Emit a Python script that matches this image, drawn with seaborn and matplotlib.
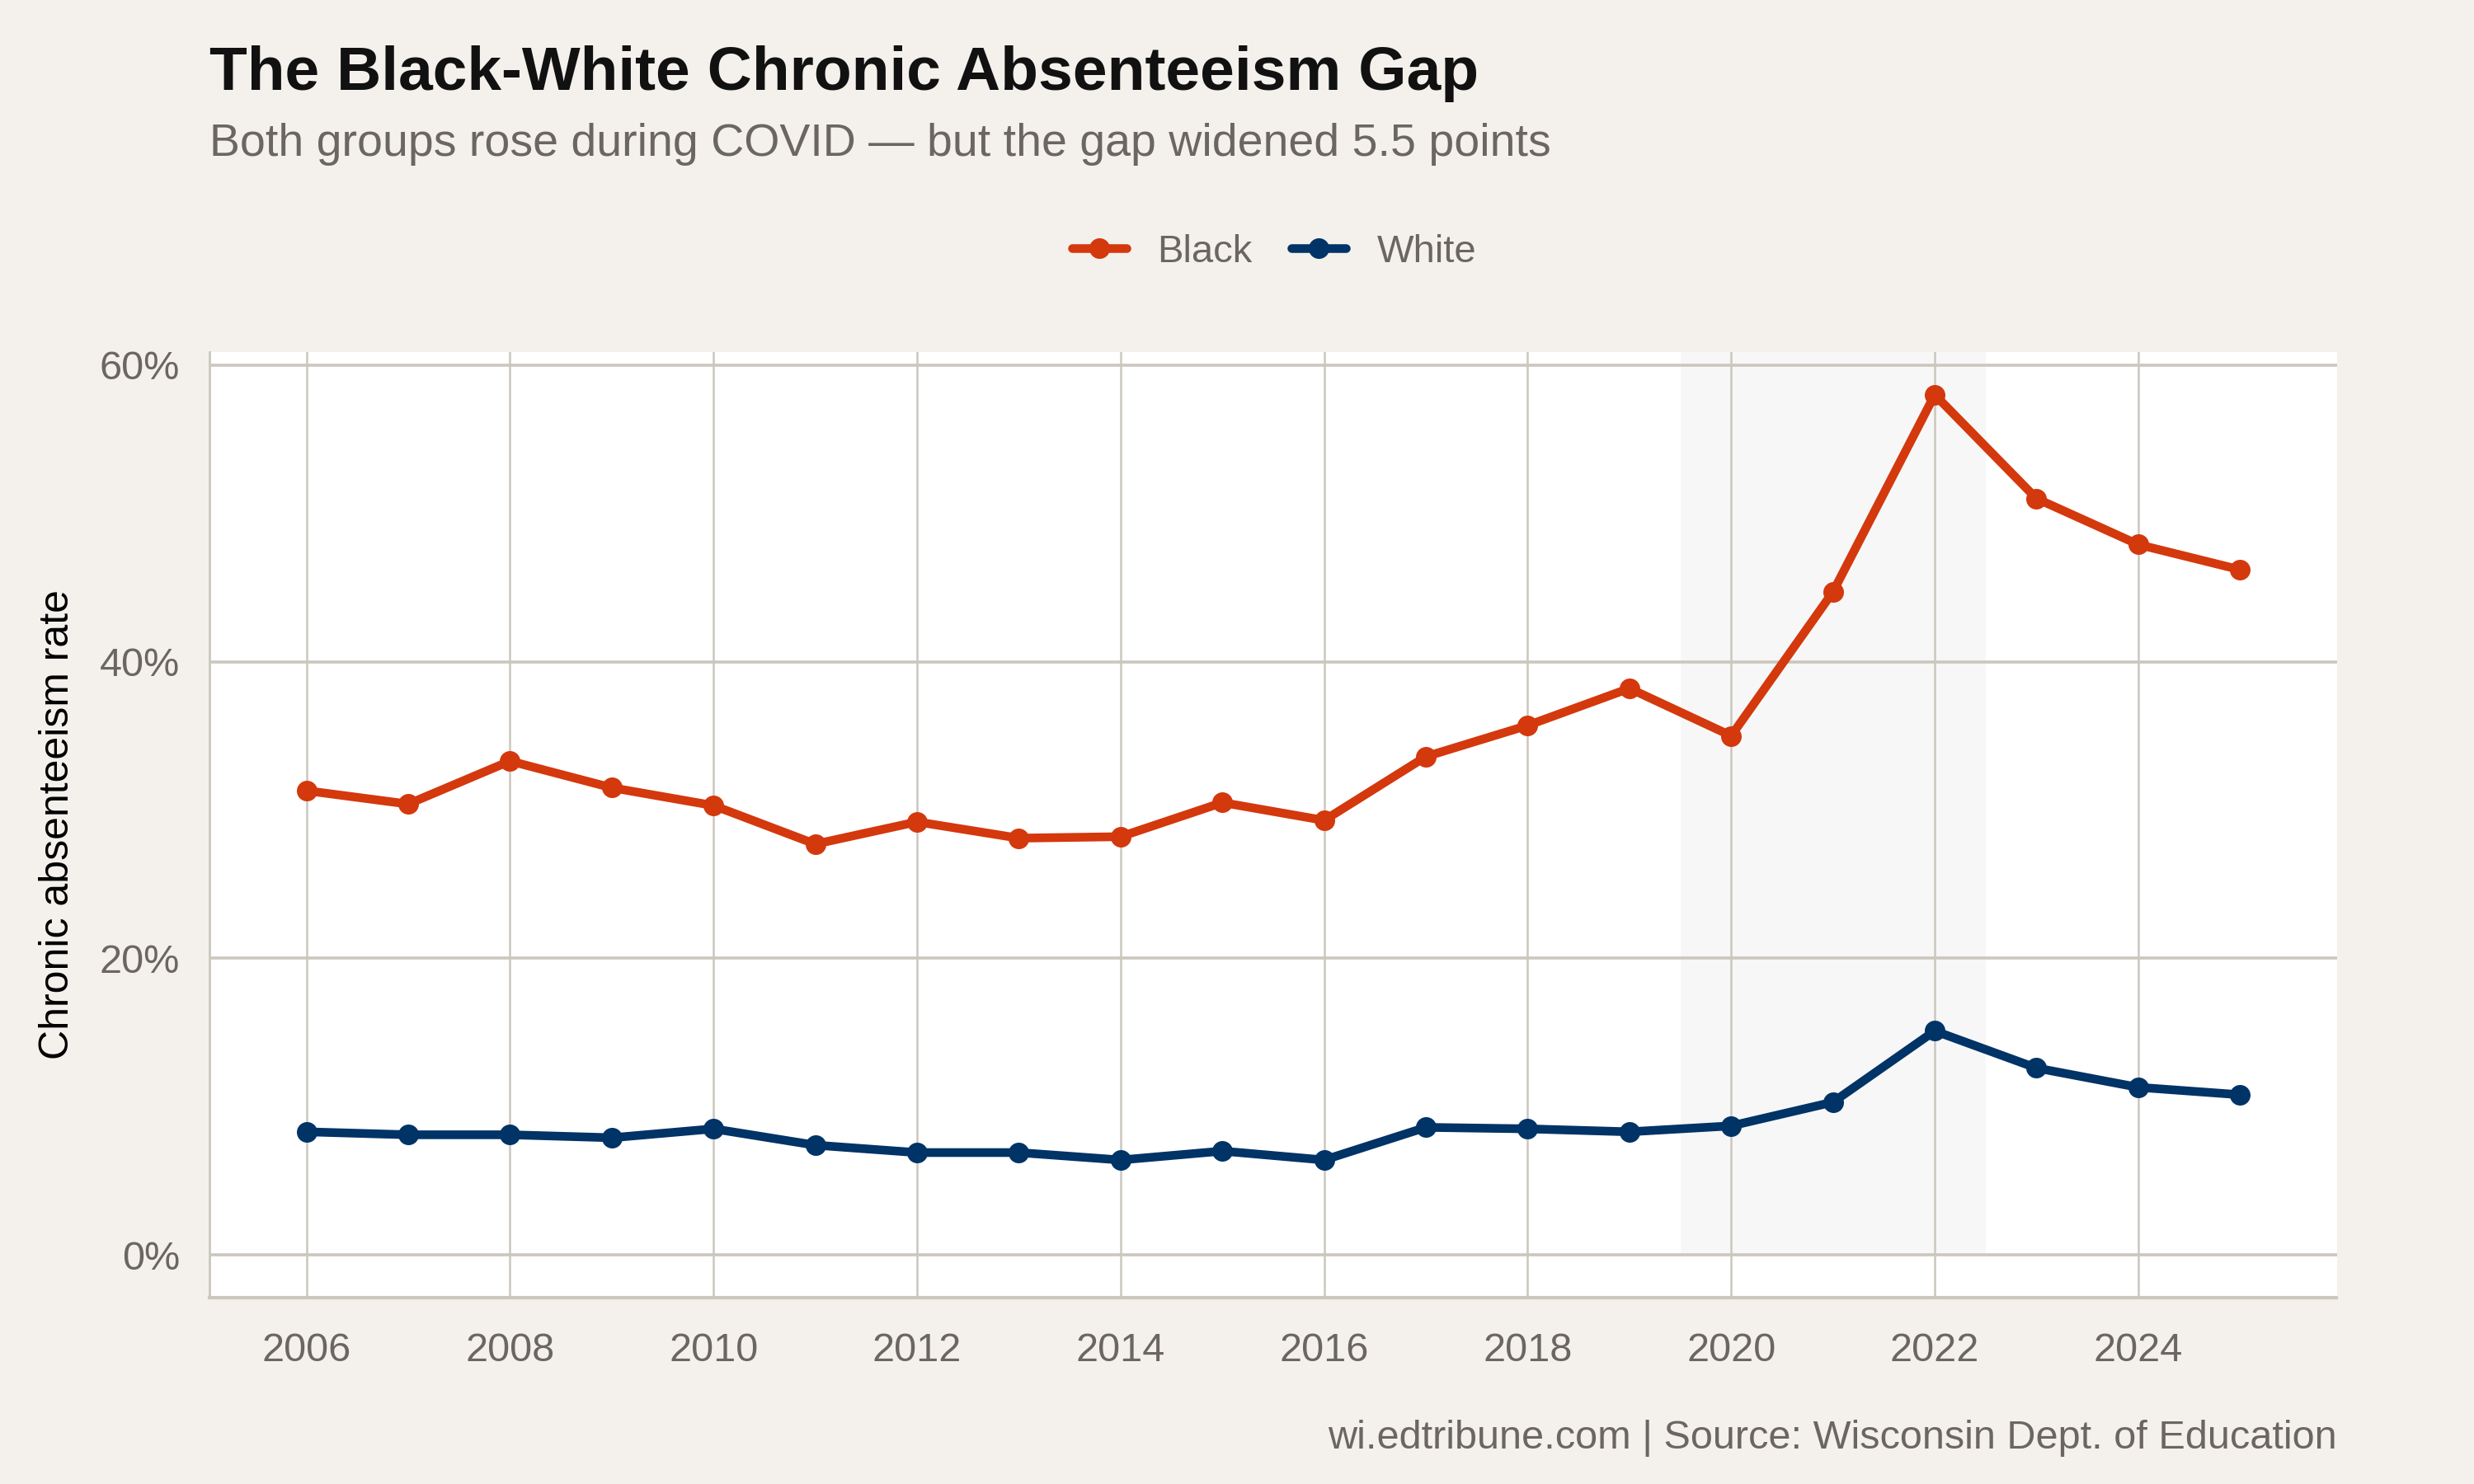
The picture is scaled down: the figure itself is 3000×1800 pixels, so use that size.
import numpy as np
import pandas as pd
import matplotlib
matplotlib.use('Agg')
import matplotlib.pyplot as plt
import seaborn as sns
from matplotlib.ticker import FuncFormatter

# Dados
anos = list(range(2006, 2026))
black = [31.3, 30.4, 33.3, 31.5, 30.3, 27.7, 29.2, 28.1, 28.2, 30.5,
         29.3, 33.6, 35.7, 38.2, 35.0, 44.7, 58.0, 51.0, 47.9, 46.2]
white = [8.3, 8.1, 8.1, 7.9, 8.5, 7.4, 6.9, 6.9, 6.4, 7.0,
         6.4, 8.6, 8.5, 8.3, 8.7, 10.3, 15.1, 12.6, 11.3, 10.8]
grupos = ['Black', 'White']
cores = {'Black': '#D4380D', 'White': '#003366'}

df = pd.DataFrame({
    'Ano': anos * 2,
    'Taxa': black + white,
    'Grupo': ['Black'] * len(anos) + ['White'] * len(anos),
})

sns.set_theme(style='whitegrid')
plt.rcParams['font.family'] = ['Liberation Sans', 'DejaVu Sans']

bg = '#F4F1EC'
grid = '#CBC7BF'
cinza = '#6B6760'

fig = plt.figure(figsize=(15, 9), dpi=200, facecolor=bg)
ax = fig.add_axes([0.0848, 0.1254, 0.8597, 0.6376])
ax.set_facecolor('white')

# Faixa COVID
ax.axvspan(2019.5, 2022.5, ymin=(0 + 2.9) / 63.8, ymax=1, color='#F7F7F7', zorder=0, lw=0)

sns.lineplot(data=df, x='Ano', y='Taxa', hue='Grupo', hue_order=grupos, palette=cores,
             marker='o', markersize=9, markeredgewidth=0, linewidth=3.8, ax=ax, zorder=3)

ax.set_xlim(2005.05, 2025.95)
ax.set_ylim(-2.9, 60.9)
ax.set_xticks(range(2006, 2025, 2))
ax.set_yticks([0, 20, 40, 60])
ax.yaxis.set_major_formatter(FuncFormatter(lambda v, p: f'{int(v)}%'))

ax.grid(False)
ax.xaxis.grid(True, color=grid, linewidth=0.9)
ax.yaxis.grid(True, color=grid, linewidth=1.3)
ax.set_axisbelow(True)
for s in ['top', 'right']:
    ax.spines[s].set_visible(False)
ax.spines['left'].set_color(grid)
ax.spines['left'].set_linewidth(1.0)
ax.spines['bottom'].set_color(grid)
ax.spines['bottom'].set_linewidth(1.5)
ax.tick_params(axis='both', colors=grid, labelcolor=cinza, labelsize=17.5, length=9, width=1)
ax.tick_params(axis='x', pad=6)
ax.tick_params(axis='y', pad=4)

ax.set_xlabel('')
ax.set_ylabel('Chronic absenteeism rate', fontsize=18, color='black', labelpad=10)

# Legenda no topo
handles, labels = ax.get_legend_handles_labels()
leg = fig.legend(handles, labels, loc='center', bbox_to_anchor=(0.515, 0.83), ncol=2,
                 frameon=False, fontsize=17, handlelength=1.4, columnspacing=1.0,
                 handletextpad=0.8)
for t in leg.get_texts():
    t.set_color(cinza)
if ax.get_legend():
    ax.get_legend().remove()

fig.text(0.0848, 0.95, 'The Black-White Chronic Absenteeism Gap', fontsize=27,
         fontweight='bold', color='#111111', va='center', ha='left')
fig.text(0.0848, 0.903, 'Both groups rose during COVID \u2014 but the gap widened 5.5 points',
         fontsize=20, color=cinza, va='center', ha='left')
fig.text(0.9445, 0.031, 'wi.edtribune.com | Source: Wisconsin Dept. of Education',
         fontsize=17.5, color=cinza, va='center', ha='right')

fig.savefig('out.png', dpi=200, facecolor=bg)
